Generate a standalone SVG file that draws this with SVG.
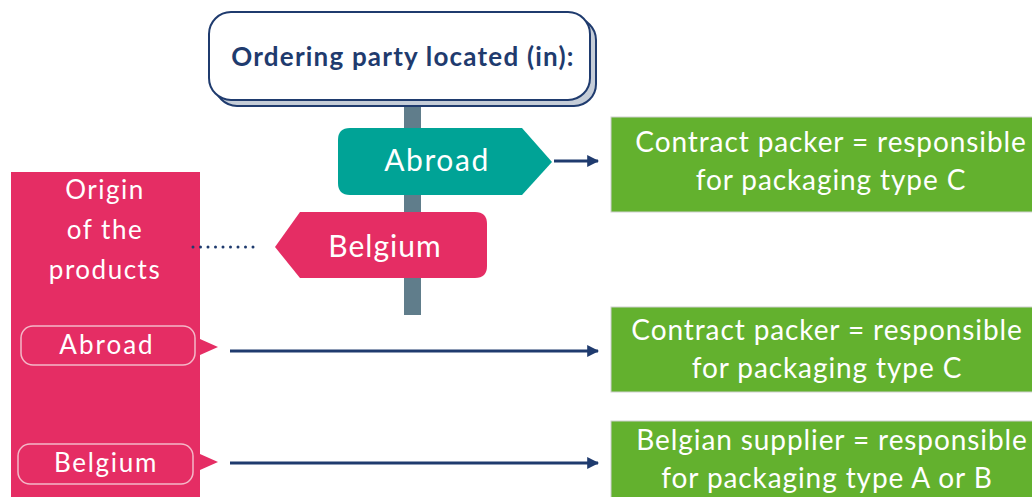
<svg xmlns="http://www.w3.org/2000/svg" width="1032" height="497" viewBox="0 0 1032 497">
<style>
.t{font-family:Lato,"Open Sans","Liberation Sans",sans-serif;fill:#fff;text-anchor:middle}
.gt{font-size:28px;letter-spacing:0.9px}
.st{font-size:30px;letter-spacing:1.3px}
.ot{font-size:26px;letter-spacing:1.6px}
.g{fill:#63b12e;stroke:#d0d0d0;stroke-width:1}
.c{stroke:#1f3b6e;stroke-width:3;fill:none}
</style>
<defs>
<marker id="ah" viewBox="0 0 10 10" refX="9" refY="5" markerWidth="4" markerHeight="4" orient="auto" markerUnits="strokeWidth">
<path d="M0,0 L10,5 L0,10 Z" fill="#1f3b6e"/>
</marker>
</defs>
<rect width="1032" height="497" fill="#fff"/>
<g id="pole"><rect x="404" y="104" width="17" height="211" fill="#607d8b"/></g>
<g id="title">
<rect x="215" y="18" width="381" height="88" rx="22" fill="#c5cdd8" stroke="#1f3b6e" stroke-width="2"/>
<rect x="209" y="12" width="381" height="88" rx="22" fill="#fff" stroke="#1f3b6e" stroke-width="2"/>
<text x="403" y="66" class="t" style="fill:#1f3b6e;font-weight:bold;font-size:26px;letter-spacing:1.2px">Ordering party located (in):</text>
</g>
<g id="sign-abroad">
<path d="M350,128 L522,128 L552,162 L522,195 L350,195 Q338,195 338,183 L338,140 Q338,128 350,128 Z" fill="#00a396"/>
<text x="437" y="171" class="t st" style="letter-spacing:1.6px">Abroad</text>
</g>
<g id="sign-belgium">
<path d="M300,212 L475,212 Q487,212 487,224 L487,266 Q487,278 475,278 L300,278 L275,247 Z" fill="#e52d64"/>
<text x="385" y="257" class="t st" style="letter-spacing:1px">Belgium</text>
</g>
<g id="origin">
<rect x="11" y="172" width="189" height="330" fill="#e52d64"/>
<text class="t ot" style="letter-spacing:1.5px"><tspan x="105" y="199">Origin</tspan><tspan x="105" y="239">of the</tspan><tspan x="105" y="279">products</tspan></text>
</g>
<g id="origin-abroad">
<rect x="21" y="326" width="174" height="39" rx="12" fill="none" stroke="#f4b8c8" stroke-width="1.5"/>
<text x="107" y="354" class="t ot" style="letter-spacing:2px">Abroad</text>
<path d="M200,339 L218,347 L200,355 Z" fill="#e52d64"/>
</g>
<g id="origin-belgium">
<rect x="18" y="444" width="175" height="40" rx="12" fill="none" stroke="#f4b8c8" stroke-width="1.5"/>
<text x="106" y="472" class="t ot" style="letter-spacing:1.7px">Belgium</text>
<path d="M200,454 L218,462 L200,470 Z" fill="#e52d64"/>
</g>
<g id="result1">
<rect x="611" y="117" width="430" height="95" class="g"/>
<text class="t gt"><tspan x="831" y="152">Contract packer = responsible</tspan><tspan x="831" y="190">for packaging type C</tspan></text>
</g>
<g id="result2">
<rect x="611" y="307" width="430" height="85" class="g"/>
<text class="t gt"><tspan x="827" y="340">Contract packer = responsible</tspan><tspan x="827" y="378">for packaging type C</tspan></text>
</g>
<g id="result3">
<rect x="611" y="421" width="430" height="90" class="g"/>
<text class="t gt"><tspan x="832" y="450">Belgian supplier = responsible</tspan><tspan x="827" y="488">for packaging type A or B</tspan></text>
</g>
<g id="connectors">
<line x1="554" y1="161" x2="598" y2="161" class="c" marker-end="url(#ah)"/>
<line x1="230" y1="351" x2="598" y2="351" class="c" marker-end="url(#ah)"/>
<line x1="230" y1="463" x2="598" y2="463" class="c" marker-end="url(#ah)"/>
<line x1="193" y1="247" x2="259" y2="247" stroke="#1f3b6e" stroke-width="3" stroke-linecap="round" stroke-dasharray="0 7.5"/>
</g>
</svg>
